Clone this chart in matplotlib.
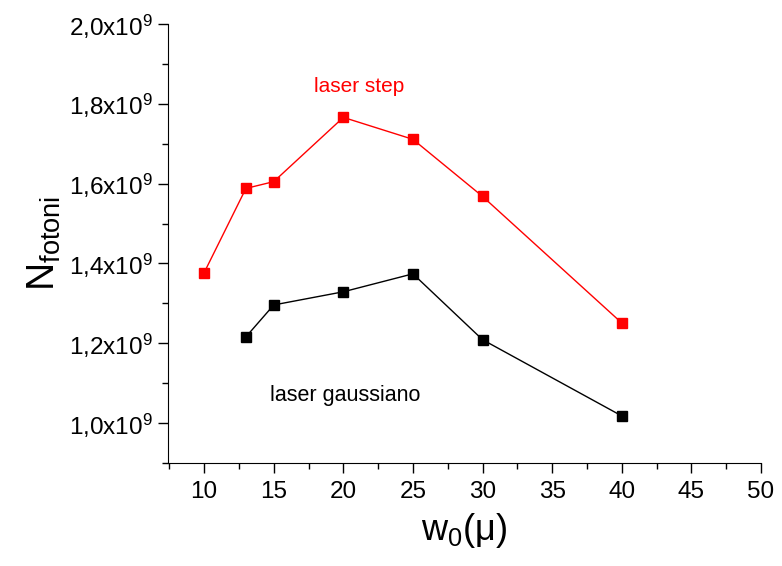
import numpy as np
import matplotlib.pyplot as plt
from matplotlib.ticker import MultipleLocator, FuncFormatter

plt.rcParams['font.family'] = 'Liberation Sans'
plt.rcParams['mathtext.fontset'] = 'custom'
plt.rcParams['mathtext.rm'] = 'Liberation Sans'
plt.rcParams['mathtext.it'] = 'Liberation Sans:italic'
plt.rcParams['mathtext.default'] = 'regular'

# waist w0 (micron) vs number of photons
w0_step = [10, 13, 15, 20, 25, 30, 40]
n_step = [1.377e9, 1.588e9, 1.605e9, 1.766e9, 1.711e9, 1.568e9, 1.251e9]

w0_gauss = [13, 15, 20, 25, 30, 40]
n_gauss = [1.216e9, 1.296e9, 1.329e9, 1.374e9, 1.209e9, 1.018e9]

fig = plt.figure(figsize=(7.82, 5.66), dpi=100)
ax = fig.add_axes([0.2148, 0.182, 0.7582, 0.7756])

ax.plot(w0_step, n_step, color='red', lw=1, marker='s', ms=6.5, mec='red')
ax.plot(w0_gauss, n_gauss, color='black', lw=1, marker='s', ms=6.5)

ax.set_xlim(7.4, 50)
ax.set_ylim(0.9e9, 2.0e9)

ax.spines['top'].set_visible(False)
ax.spines['right'].set_visible(False)

ax.xaxis.set_major_locator(MultipleLocator(5))
ax.xaxis.set_minor_locator(MultipleLocator(2.5))
ax.yaxis.set_major_locator(MultipleLocator(0.2e9))
ax.yaxis.set_minor_locator(MultipleLocator(0.1e9))

def sci_fmt(v, pos):
    return ('%.1f' % (v / 1e9)).replace('.', ',') + r'x10$^{9}$'

ax.yaxis.set_major_formatter(FuncFormatter(sci_fmt))
ax.tick_params(which='major', direction='out', length=7, width=1, labelsize=17.5)
ax.tick_params(which='minor', direction='out', length=4, width=1)
ax.tick_params(axis='x', pad=6)
ax.tick_params(axis='y', pad=4)

ax.set_xlabel(r'w$_0$($\mu$)', fontsize=26, labelpad=6)
ax.set_ylabel(r'N$_{fotoni}$', fontsize=28, labelpad=4)

ax.text(21.1, 1.83e9, 'laser step', color='red', fontsize=15, ha='center')
ax.text(20.1, 1.055e9, 'laser gaussiano', color='black', fontsize=15.5, ha='center')

fig.savefig('out.png', dpi=100)
